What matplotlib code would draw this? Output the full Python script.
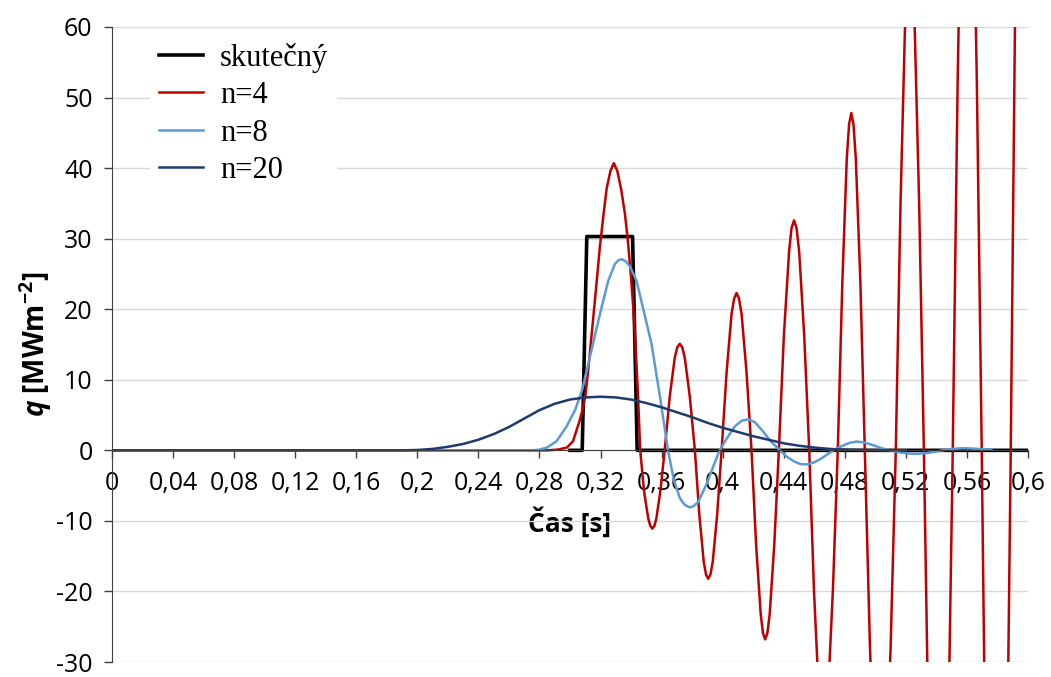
import matplotlib
matplotlib.use("Agg")
import matplotlib.pyplot as plt
from matplotlib.ticker import FuncFormatter
import numpy as np

# skutečný (real heat flux) - rectangular pulse
t_real = [0.300, 0.308, 0.311, 0.341, 0.344, 0.600]
q_real = [0, 0, 30.3, 30.3, 0, 0]

# n=4
t_n4 = [0.0, 0.285, 0.292, 0.298, 0.302, 0.306, 0.308, 0.310, 0.312, 0.314, 0.317,
        0.3195, 0.322, 0.324, 0.3265, 0.3287, 0.331, 0.3335, 0.336, 0.338, 0.340,
        0.3415, 0.343, 0.3445, 0.3460,
        0.3485, 0.3512, 0.3526, 0.3539, 0.3553, 0.3566, 0.3593, 0.3620,
        0.3653, 0.3686, 0.37025, 0.3719, 0.37355, 0.3752, 0.3785, 0.3818,
        0.3847, 0.3876, 0.3891, 0.3905, 0.3920, 0.3935, 0.3964, 0.3993,
        0.4026, 0.4058, 0.4075, 0.4091, 0.4107, 0.4124, 0.4156, 0.4189,
        0.4219, 0.4249, 0.4264, 0.42785, 0.4293, 0.4308, 0.4338, 0.4368,
        0.4401, 0.4435, 0.4451, 0.44675, 0.4484, 0.4501, 0.4534, 0.4567,
        0.4598, 0.4629, 0.4660, 0.4691, 0.4722, 0.4754,
        0.4784, 0.4813, 0.4828, 0.48425, 0.4857, 0.4872, 0.4902, 0.4931,
        0.4965, 0.4999, 0.5033, 0.5066, 0.5100, 0.5134,
        0.5165, 0.5195, 0.5226, 0.5257, 0.5287, 0.5318,
        0.5350, 0.5381, 0.5413, 0.5444, 0.5476, 0.5507,
        0.5539, 0.5570, 0.5602, 0.5634, 0.5665, 0.5697,
        0.5729, 0.5760, 0.5792, 0.5824, 0.5855, 0.5887,
        0.5919, 0.5950, 0.6000]
q_n4 = [0, 0, 0.1, 0.4, 1.3, 4.0, 5.6, 7.6, 11.5, 16.0, 22.8,
        28.7, 33.5, 37.1, 39.6, 40.7, 39.6, 37.0, 33.5, 29.5, 24.5,
        20.0, 14.5, 8.0, 0,
        -5.8, -9.6, -10.7, -11.1, -10.7, -9.6, -5.6, 0,
        7.55, 13.1, 14.6, 15.1, 14.6, 13.1, 7.55, 0,
        -9.1, -15.8, -17.6, -18.2, -17.6, -15.8, -9.1, 0,
        11.15, 19.3, 21.5, 22.3, 21.5, 19.3, 11.15, 0,
        -13.4, -23.2, -25.9, -26.8, -25.9, -23.2, -13.4, 0,
        16.3, 28.2, 31.5, 32.6, 31.5, 28.2, 16.3, 0,
        -19.8, -34.2, -39.5, -34.2, -19.8, 0,
        23.9, 41.4, 46.2, 47.8, 46.2, 41.4, 23.9, 0,
        -28.0, -48.5, -56.0, -48.5, -28.0, 0,
        35.0, 60.6, 70.0, 60.6, 35.0, 0,
        -43.0, -74.5, -86.0, -74.5, -43.0, 0,
        52.0, 90.0, 104.0, 90.0, 52.0, 0,
        -60.0, -104.0, -120.0, -104.0, -60.0, 0,
        70.0, 121.0, 140.0]

# n=8
t_n8 = [0.0, 0.275, 0.280, 0.285, 0.2912, 0.2978, 0.3035, 0.3080, 0.3141, 0.3196,
        0.3250, 0.3294, 0.3315, 0.3337, 0.3365, 0.3392, 0.3436, 0.3480, 0.3534,
        0.3590, 0.3642,
        0.368, 0.372, 0.375, 0.3785, 0.381, 0.384, 0.389, 0.394, 0.398,
        0.403, 0.408, 0.4125, 0.4167, 0.421, 0.426, 0.431, 0.4375,
        0.442, 0.447, 0.451, 0.455, 0.460, 0.465, 0.4724,
        0.478, 0.483, 0.4877, 0.493, 0.499, 0.504, 0.5095,
        0.516, 0.521, 0.527, 0.533, 0.539, 0.544,
        0.550, 0.557, 0.564, 0.570, 0.576]
q_n8 = [0, 0, 0.1, 0.4, 1.3, 3.4, 5.8, 8.6, 14.2, 19.3,
        24.0, 26.4, 26.9, 27.1, 26.8, 26.1, 24.0, 20.0, 15.1,
        7.5, 0,
        -4.2, -6.8, -7.7, -8.1, -7.9, -7.3, -5.0, -2.2, 0,
        1.8, 3.4, 4.2, 4.4, 4.0, 2.8, 1.4, 0,
        -0.9, -1.6, -1.95, -2.0, -1.7, -1.1, 0,
        0.6, 1.05, 1.25, 1.1, 0.7, 0.3, 0,
        -0.3, -0.45, -0.5, -0.4, -0.2, 0,
        0.2, 0.3, 0.25, 0.15, 0.1]

# n=20
t_n20 = [0.0, 0.19, 0.20, 0.21, 0.22, 0.23, 0.24, 0.25, 0.26, 0.27, 0.28, 0.29,
         0.30, 0.31, 0.32, 0.33, 0.34, 0.35, 0.36, 0.37, 0.38, 0.39, 0.40, 0.41,
         0.42, 0.43, 0.44, 0.45, 0.46, 0.47, 0.48, 0.49, 0.50, 0.52]
q_n20 = [0, 0, 0.05, 0.2, 0.5, 0.9, 1.5, 2.3, 3.3, 4.5, 5.7, 6.6,
         7.2, 7.5, 7.6, 7.5, 7.2, 6.7, 6.1, 5.4, 4.7, 3.9, 3.2, 2.6,
         2.0, 1.5, 1.0, 0.65, 0.4, 0.2, 0.1, 0.05, 0.02, 0]

labels = ['skutečný', 'n=4', 'n=8', 'n=20']
colors = ['#000000', '#C00000', '#5B9BD5', '#1F3A6E']

x_ticks = np.round(np.arange(0, 0.6001, 0.04), 2)
y_ticks = np.arange(-30, 61, 10)


def plot_flux():
    plt.rcParams['font.family'] = ['Open Sans', 'DejaVu Sans']
    plt.rcParams['axes.unicode_minus'] = False
    plt.rcParams['mathtext.fontset'] = 'custom'
    plt.rcParams['mathtext.rm'] = 'Open Sans'
    plt.rcParams['mathtext.bf'] = 'Open Sans:bold'
    plt.rcParams['mathtext.bfit'] = 'Open Sans:italic:bold'

    fig = plt.figure(figsize=(10.51, 6.77), dpi=100)
    ax = fig.add_axes([112 / 1051, 15 / 677, 916 / 1051, 635 / 677])

    series = [(t_real, q_real), (t_n4, q_n4), (t_n8, q_n8), (t_n20, q_n20)]
    widths = [2.6, 1.8, 1.8, 1.8]
    for (t, q), lab, col, lw in zip(series, labels, colors, widths):
        ax.plot(t, q, color=col, lw=lw, label=lab, solid_joinstyle='round')

    ax.set_xlim(0, 0.6)
    ax.set_ylim(-30, 60)
    ax.set_xticks(x_ticks)
    ax.set_yticks(y_ticks)
    ax.xaxis.set_major_formatter(FuncFormatter(lambda v, p: f"{v:g}".replace('.', ',')))
    ax.grid(axis='y', color='#d9d9d9', lw=1)
    ax.set_axisbelow(True)

    for s in ['top', 'right']:
        ax.spines[s].set_visible(False)
    ax.spines['bottom'].set_position(('data', 0))
    ax.spines['bottom'].set_color('#404040')
    ax.spines['left'].set_color('#404040')
    ax.tick_params(axis='x', direction='out', length=6, width=1, color='#404040',
                   labelsize=18, pad=9)
    ax.tick_params(axis='y', direction='out', length=6, width=1, color='#404040',
                   labelsize=18, pad=8)

    ax.set_xlabel('Čas [s]', fontsize=19, fontweight='bold')
    ax.xaxis.set_label_coords(0.5, 0.22)
    ax.xaxis.label.set_va('center')
    ax.set_ylabel(r'$\mathbfit{q}$ [MWm$^{\mathbf{-2}}$]', fontsize=20, fontweight='bold')
    ax.yaxis.set_label_coords(-0.084, 0.5)
    ax.yaxis.label.set_va('center')

    leg = ax.legend(loc='upper left', bbox_to_anchor=(0.041, 0.99), borderaxespad=0,
                    prop={'family': 'Liberation Serif', 'size': 22},
                    handlelength=1.45, handletextpad=0.55, labelspacing=0.28,
                    borderpad=0.3, frameon=True, fancybox=False)
    leg.get_frame().set_edgecolor('none')
    leg.get_frame().set_facecolor('white')
    leg.get_frame().set_alpha(1)

    fig.savefig('out.png', dpi=100)


if __name__ == "__main__":
    plot_flux()
